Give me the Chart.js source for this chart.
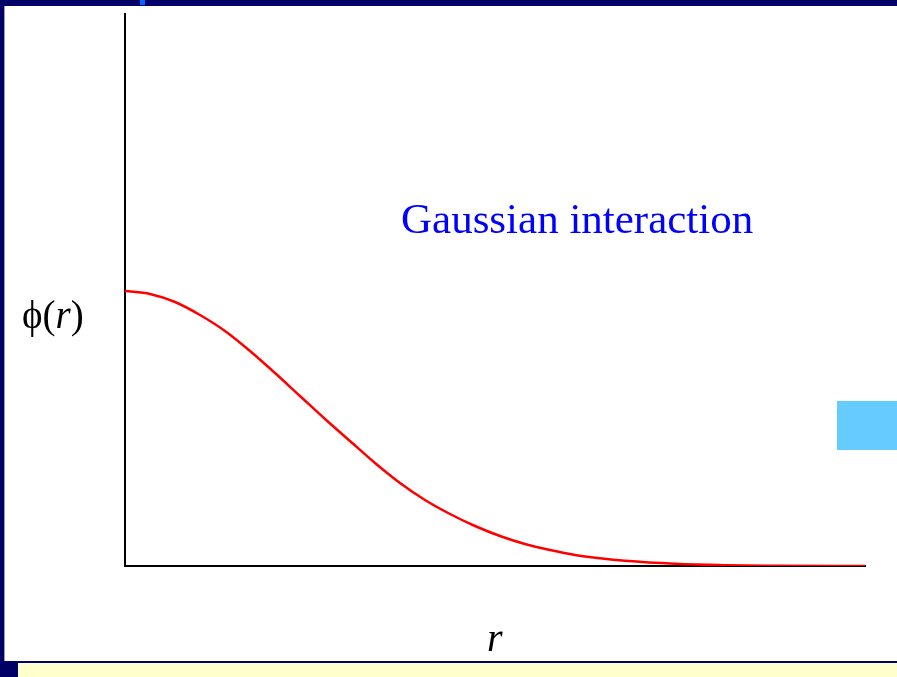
<!DOCTYPE html>
<html>
<head>
<meta charset="utf-8">
<script src="https://cdn.jsdelivr.net/npm/chart.js@4.4.1/dist/chart.umd.min.js"></script>
<style>
  html, body { margin: 0; padding: 0; background: #ffffff; }
  #page { position: relative; width: 897px; height: 677px; overflow: hidden; background: #ffffff; }
  .abs { position: absolute; }
  #topbar { left: 0; top: 0; width: 897px; height: 6px; background: #000066; }
  #topmark { left: 140px; top: 0; width: 5px; height: 5px; background: #0066ff; }
  #leftbar { left: 0; top: 0; width: 4px; height: 677px; background: #000066; }
  #leftline { left: 4px; top: 6px; width: 1px; height: 655px; background: #9999cc; }
  #botline { left: 0; top: 661px; width: 897px; height: 2px; background: #000066; }
  #botleft { left: 0; top: 663px; width: 18px; height: 14px; background: #000066; }
  #botyellow { left: 18px; top: 663px; width: 879px; height: 14px; background: #ffffcc; }
  #bluebox { left: 837px; top: 401px; width: 60px; height: 49px; background: #66ccff; }
  canvas#c { position: absolute; left: 0; top: 0; }
  .txt { position: absolute; font-family: "Liberation Serif", "DejaVu Serif", serif; line-height: 1; white-space: nowrap; }
  #title { left: 401px; top: 197px; font-size: 43px; color: #0000ff; }
  #ylab { left: 22px; top: 295px; font-size: 39px; color: #000000; }
  #xlab { left: 487px; top: 618px; font-size: 40px; color: #000000; font-style: italic; }
</style>
</head>
<body>
<div id="page">
  <div class="abs" id="topbar"></div>
  <div class="abs" id="topmark"></div>
  <div class="abs" id="leftbar"></div>
  <div class="abs" id="leftline"></div>
  <div class="abs" id="botline"></div>
  <div class="abs" id="botleft"></div>
  <div class="abs" id="botyellow"></div>
  <div class="abs" id="bluebox"></div>
  <canvas id="c" width="897" height="677"></canvas>
  <div class="txt" id="title">Gaussian interaction</div>
  <div class="txt" id="ylab">ϕ(<i>r</i>)</div>
  <div class="txt" id="xlab">r</div>
</div>
<script>
// distance r (arbitrary units) and interaction phi(r)
const rValues = [0, 0.25, 0.5, 0.75, 1.0, 1.25, 1.5, 1.75, 2.0, 2.25, 2.5, 2.75, 3.0, 3.25, 3.5, 3.75, 4.0, 4.25, 4.5, 4.75, 5.0, 5.5, 6.0, 6.5, 7.4];
const phiValues = [2.75, 2.72, 2.64, 2.51, 2.35, 2.15, 1.93, 1.70, 1.47, 1.25, 1.03, 0.83, 0.66, 0.52, 0.40, 0.30, 0.22, 0.16, 0.11, 0.077, 0.052, 0.022, 0.008, 0.003, 0];
const rMax = 7.4;
const phiMax = 5.52;

const points = rValues.map((r, i) => ({ x: r, y: phiValues[i] }));

new Chart(document.getElementById('c'), {
  type: 'scatter',
  data: {
    datasets: [{
      data: points,
      showLine: true,
      borderColor: '#ff0000',
      borderWidth: 2.5,
      pointRadius: 0,
      pointHoverRadius: 0,
      fill: false,
      cubicInterpolationMode: 'monotone'
    }]
  },
  options: {
    responsive: false,
    animation: false,
    events: [],
    layout: { padding: { left: 117, right: 32, top: 14, bottom: 103 } },
    plugins: { legend: { display: false }, tooltip: { enabled: false } },
    scales: {
      x: {
        type: 'linear',
        min: 0,
        max: rMax,
        grid: { display: false },
        ticks: { display: false },
        border: { display: true, color: '#000000', width: 2 }
      },
      y: {
        type: 'linear',
        min: 0,
        max: phiMax,
        grid: { display: false },
        ticks: { display: false },
        border: { display: true, color: '#000000', width: 2 }
      }
    }
  }
});
</script>
</body>
</html>
